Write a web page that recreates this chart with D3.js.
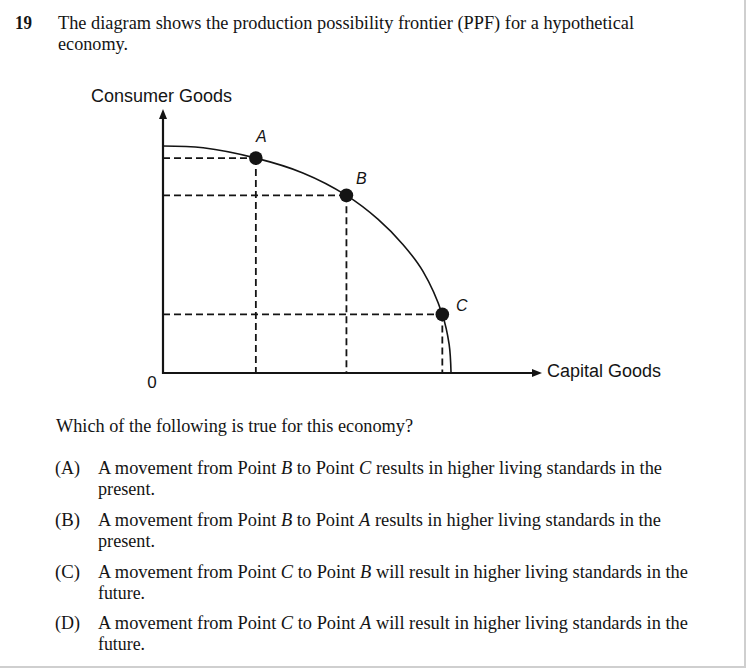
<!DOCTYPE html>
<html>
<head>
<meta charset="utf-8">
<script src="https://cdn.jsdelivr.net/npm/d3@7"></script>
<style>
  html, body { margin: 0; padding: 0; background: #fff; }
  svg { display: block; }
</style>
</head>
<body>
<svg id="chart" width="747" height="669"></svg>
<script>
// ---- Data ----
const frontierCapital  = [0, 1.06, 2.45, 3.69, 4.84, 5.67, 6.33, 6.86, 7.37, 7.55, 7.6];
const frontierConsumer = [8.6, 8.53, 8.14, 7.58, 6.73, 5.83, 4.87, 3.85, 2.22, 1.08, 0];
const pointLabels   = ["A", "B", "C"];
const pointCapital  = [2.45, 4.84, 7.37];
const pointConsumer = [8.14, 6.73, 2.22];
const xAxisTitle = "Capital Goods";
const yAxisTitle = "Consumer Goods";
const originLabel = "0";

// ---- Layout ----
const svg = d3.select("#chart");
const ink = "#141414";
const serif = "'Liberation Serif', 'Times New Roman', serif";
const sans = "'Liberation Sans', Arial, sans-serif";

// page frame (scan border)
svg.append("line").attr("x1", 745).attr("x2", 745).attr("y1", 0).attr("y2", 667)
  .attr("stroke", "#cfcfcf").attr("stroke-width", 2);
svg.append("line").attr("x1", 0).attr("x2", 746).attr("y1", 667).attr("y2", 667)
  .attr("stroke", "#cfcfcf").attr("stroke-width", 2);

// ---- Question text ----
function textLine(x, y, parts, width, opts = {}) {
  const t = svg.append("text").attr("x", x).attr("y", y)
    .attr("font-family", serif).attr("font-size", opts.size || 18)
    .attr("fill", ink);
  if (opts.bold) t.attr("font-weight", "bold");
  if (width) t.attr("textLength", width).attr("lengthAdjust", "spacingAndGlyphs");
  parts.forEach(p => {
    const s = t.append("tspan").text(p.t !== undefined ? p.t : p);
    if (p.i) s.attr("font-style", "italic");
  });
  return t;
}

textLine(15, 29, ["19"], 17, {bold: true});
textLine(58, 29, ["The diagram shows the production possibility frontier (PPF) for a hypothetical"], 576);
textLine(58, 50, ["economy."], 70);
textLine(56, 432, ["Which of the following is true for this economy?"], 357);

const options = [
  {lab: "(A)", y: 474, w: 564, l1: ["A movement from Point ", {t: "B", i: 1}, " to Point ", {t: "C", i: 1}, " results in higher living standards in the"], l2: "present.", w2: 57},
  {lab: "(B)", y: 526, w: 563, l1: ["A movement from Point ", {t: "B", i: 1}, " to Point ", {t: "A", i: 1}, " results in higher living standards in the"], l2: "present.", w2: 57},
  {lab: "(C)", y: 578, w: 590, l1: ["A movement from Point ", {t: "C", i: 1}, " to Point ", {t: "B", i: 1}, " will result in higher living standards in the"], l2: "future.", w2: 47},
  {lab: "(D)", y: 629, w: 590, l1: ["A movement from Point ", {t: "C", i: 1}, " to Point ", {t: "A", i: 1}, " will result in higher living standards in the"], l2: "future.", w2: 47}
];
options.forEach(o => {
  textLine(55, o.y, [o.lab], 25);
  textLine(98, o.y, o.l1, o.w);
  textLine(98, o.y + 21, [o.l2], o.w2);
});

// ---- Chart ----
const x = d3.scaleLinear().domain([0, 10]).range([163, 542]);
const y = d3.scaleLinear().domain([0, 10]).range([373, 109]);

const xAxis = d3.axisBottom(x).tickValues([]).tickSizeOuter(0);
const yAxis = d3.axisLeft(y).tickValues([]).tickSizeOuter(0);

const gx = svg.append("g").attr("transform", `translate(0,${y(0)})`).call(xAxis);
const gy = svg.append("g").attr("transform", `translate(${x(0)},0)`).call(yAxis);
[gx, gy].forEach(g => g.select(".domain").attr("stroke", ink).attr("stroke-width", 2.2));
// shorten domain lines so arrowheads form the tips
gx.select(".domain").attr("d", `M${x(0) - 1},0H${x(10) - 6}`);
gy.select(".domain").attr("d", `M0,${y(0) + 1}V${y(10) + 6}`);

// arrowheads
svg.append("path")
  .attr("d", `M${x(10)},${y(0)} L${x(10) - 10},${y(0) - 4} L${x(10) - 10},${y(0) + 4} Z`)
  .attr("fill", ink);
svg.append("path")
  .attr("d", `M${x(0)},${y(10)} L${x(0) - 4},${y(10) + 10} L${x(0) + 4},${y(10) + 10} Z`)
  .attr("fill", ink);

// axis titles
svg.append("text").attr("x", 91).attr("y", 101.5)
  .attr("font-family", sans).attr("font-size", 18).attr("fill", ink)
  .text(yAxisTitle);
svg.append("text").attr("x", 547).attr("y", 377)
  .attr("font-family", sans).attr("font-size", 18).attr("fill", ink)
  .text(xAxisTitle);
svg.append("text").attr("x", 152).attr("y", 388).attr("text-anchor", "middle")
  .attr("font-family", sans).attr("font-size", 17).attr("fill", ink)
  .text(originLabel);

// dashed guide lines
const pts = pointLabels.map((l, i) => ({l, cx: pointCapital[i], cy: pointConsumer[i]}));
const guides = svg.append("g").attr("stroke", ink).attr("stroke-width", 1.8)
  .attr("stroke-dasharray", "7,4").attr("fill", "none");
pts.forEach(p => {
  guides.append("line").attr("x1", x(0)).attr("x2", x(p.cx)).attr("y1", y(p.cy)).attr("y2", y(p.cy));
  guides.append("line").attr("x1", x(p.cx)).attr("x2", x(p.cx)).attr("y1", y(p.cy)).attr("y2", y(0));
});

// PPF curve
const line = d3.line()
  .x((d, i) => x(frontierCapital[i]))
  .y((d, i) => y(frontierConsumer[i]))
  .curve(d3.curveCatmullRom.alpha(0.5));
svg.append("path").datum(frontierCapital).attr("d", line)
  .attr("fill", "none").attr("stroke", ink).attr("stroke-width", 1.6);

// points
svg.selectAll("circle.pt").data(pts).join("circle").attr("class", "pt")
  .attr("cx", d => x(d.cx)).attr("cy", d => y(d.cy)).attr("r", 6.8)
  .attr("fill", ink);

// point labels
const labelOffsets = {A: [5.5, -16], B: [15, -11], C: [19.5, -3]};
svg.selectAll("text.pl").data(pts).join("text").attr("class", "pl")
  .attr("x", d => x(d.cx) + labelOffsets[d.l][0])
  .attr("y", d => y(d.cy) + labelOffsets[d.l][1])
  .attr("text-anchor", "middle")
  .attr("font-family", sans).attr("font-style", "italic").attr("font-size", 16)
  .attr("fill", ink).text(d => d.l);
</script>
</body>
</html>
